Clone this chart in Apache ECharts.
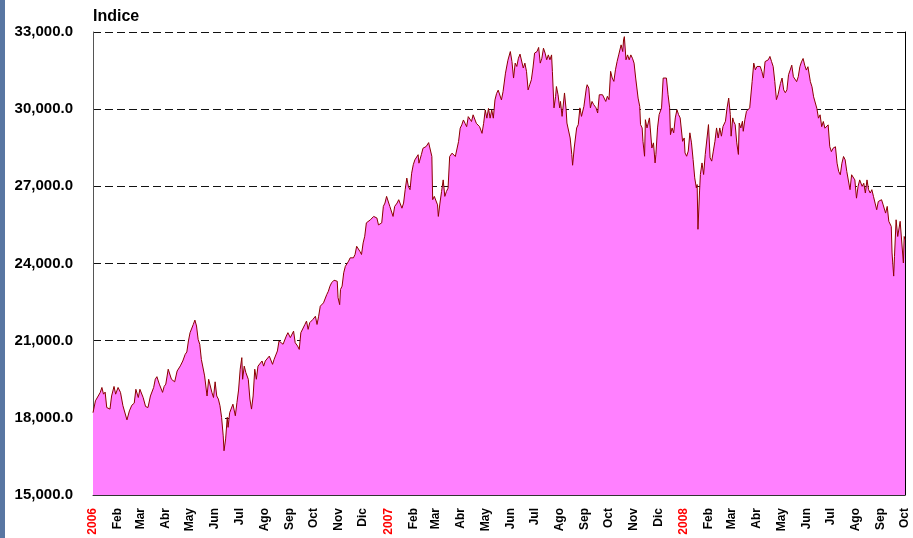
<!DOCTYPE html>
<html>
<head>
<meta charset="utf-8">
<script src="https://cdn.jsdelivr.net/npm/echarts@6/dist/echarts.min.js"></script>
<style>
  html, body { margin: 0; padding: 0; background: #fff; }
  #chart { width: 913px; height: 538px; }
</style>
</head>
<body>
<div id="chart"></div>
<script>
// [days since 2006-01-01, index close]
var s2006 = [[0,18200],[3,18660],[5,18730],[9,18990],[11,19180],[13,18920],[15,19000],[17,18400],[19,18470],[21,18340],[23,18850],[26,19220],[28,18920],[31,19180],[34,18990],[37,18470],[42,17920],[45,18270],[48,18490],[51,18570],[53,19110],[56,18790],[58,19110],[60,19140],[62,18790],[65,18440],[68,18400],[71,18850],[75,19180],[77,19500],[79,19600],[82,19310],[84,19310],[86,18990],[88,19220],[90,19310],[93,19890],[95,19920],[97,19500],[99,19530],[101,19400],[104,19820],[108,20020],[111,20210],[114,20470],[116,20560],[118,20990],[120,21310],[122,21290],[124,21630],[126,21800],[128,21570],[130,21050],[132,20860],[134,20270],[136,20210],[138,19630],[141,18850],[143,19500],[145,19570],[147,18990],[149,18790],[151,19400],[153,18850],[155,18730],[157,18470],[159,18020],[161,17300],[162,16720],[164,17180],[166,18020],[167,17630],[169,18200],[171,18140],[173,18530],[176,18080],[178,18600],[180,19080],[182,19890],[184,20340],[185,19500],[187,20010],[189,19760],[192,19500],[194,18730],[196,18340],[198,18850],[200,19890],[202,19500],[204,20010],[206,19950],[209,20210],[211,20010],[213,20210],[215,20280],[218,20400],[220,20340],[222,20080],[224,20280],[226,20340],[228,20600],[230,20990],[232,21050],[235,20860],[237,20790],[239,21180],[241,21310],[244,21120],[246,21050],[248,21370],[250,20920],[253,20790],[255,20660],[257,21310],[259,21370],[262,21630],[264,21760],[266,21440],[268,21700],[270,21760],[272,21830],[275,21950],[277,21630],[279,21950],[281,22340],[283,22400],[285,22470],[287,22400],[289,22790],[291,22920],[293,23120],[295,23250],[298,23350],[300,23380],[302,23310],[303,22670],[305,22400],[306,22990],[308,23120],[310,23640],[312,23890],[314,23960],[316,24090],[318,24220],[320,24280],[322,24220],[324,24350],[326,24670],[328,24730],[330,24470],[332,24350],[334,24800],[336,25060],[338,25580],[340,25640],[343,25700],[345,25770],[347,25830],[349,25860],[351,25770],[353,25500],[355,25440],[357,25580],[359,26220],[361,26350],[363,26610]];
var s2007 = [[365,26630],[367,26220],[369,26280],[371,25830],[373,26220],[376,26350],[378,26480],[380,26540],[382,26150],[384,26350],[386,26870],[388,27320],[390,26990],[392,26870],[394,27510],[396,27840],[398,28030],[400,28100],[402,28230],[403,27900],[405,27970],[406,28230],[408,28480],[410,28520],[412,28550],[413,28610],[415,28700],[417,28650],[419,28160],[420,26480],[422,26610],[424,26630],[426,26280],[427,25830],[429,26350],[431,26800],[433,27250],[435,26610],[437,26800],[439,26930],[441,28160],[444,28290],[446,28230],[448,28160],[450,28160],[452,28740],[454,29260],[456,29390],[458,29580],[460,29450],[462,29320],[464,29710],[466,29740],[468,29520],[470,29780],[472,29840],[474,29450],[476,29450],[478,29320],[481,29060],[483,29450],[485,29970],[487,29650],[489,30030],[491,29650],[493,29970],[495,29650],[497,30360],[499,30610],[501,30740],[505,30360],[507,30680],[510,31400],[513,31900],[516,32240],[518,31850],[520,31210],[522,31790],[524,31660],[526,31980],[528,32140],[530,32180],[532,31600],[534,31790],[536,31470],[538,30750],[540,30950],[542,31140],[544,31600],[546,32180],[549,32240],[551,32400],[553,31790],[555,31980],[557,32370],[559,32180],[561,31920],[563,32110],[565,31920],[567,32110],[568,31470],[570,30050],[572,30500],[573,30880],[575,30560],[577,30050],[578,30300],[580,29720],[583,30630],[585,29980],[586,29460],[588,29530],[590,28880],[592,28240],[593,27820],[595,28490],[596,28560],[598,29270],[600,29400],[602,30050],[604,29720],[605,29660],[607,30110],[610,30820],[611,30950],[613,30820],[615,30050],[617,30300],[619,30180],[621,30240],[622,30050],[624,29850],[626,30560],[628,30500],[630,30560],[632,30500],[634,30300],[636,30500],[638,30370],[640,31470],[642,31210],[644,31080],[646,31530],[648,31850],[650,32110],[652,32050],[653,32500],[655,32240],[656,32690],[657,32820],[659,31920],[661,32110],[663,31920],[665,32110],[667,31980],[669,31790],[671,31210],[674,30430],[676,30110],[677,29400],[679,29270],[680,28750],[682,28170],[683,29590],[685,29270],[688,29660],[689,29270],[691,28490],[693,28690],[695,27910],[696,28240],[698,29270],[700,29790],[701,29850],[703,30050],[705,31210],[707,31270],[709,31210],[711,30560],[713,30050],[714,29010],[716,29270],[718,29080],[720,29660],[722,29980],[724,29790],[726,29660],[728,29720],[729,28750]];
var s2008 = [[731,28880],[732,28300],[734,28170],[736,28370],[738,29080],[740,28690],[742,28040],[744,27330],[746,26940],[747,27070],[748,25330],[750,26820],[751,27460],[753,27910],[755,27460],[757,28240],[759,28300],[761,29400],[763,28110],[765,27980],[767,28370],[769,28750],[771,29270],[773,28880],[775,29270],[777,28950],[779,29330],[782,29530],[784,30050],[786,30430],[788,29790],[789,28950],[791,29660],[792,29530],[794,29400],[796,28690],[798,28240],[799,29460],[801,29270],[803,29530],[804,29140],[806,29590],[808,29920],[810,29980],[812,30050],[815,31080],[817,31790],[819,31530],[821,31660],[823,31720],[825,31660],[827,31470],[829,31210],[831,31850],[833,31790],[835,31920],[837,32050],[839,31850],[841,31660],[843,31080],[845,30370],[847,30560],[850,31000],[852,31210],[854,30750],[856,30640],[858,30750],[860,31340],[862,31520],[864,31710],[866,31260],[868,31200],[870,31070],[872,31260],[874,31650],[876,31840],[878,31970],[880,31710],[882,31520],[884,31650],[887,31070],[889,30870],[891,30480],[893,30420],[895,30030],[897,29650],[899,29780],[901,29320],[903,29520],[905,29260],[907,29320],[909,29390],[911,28540],[913,28350],[915,28480],[918,28540],[920,27900],[922,27580],[924,27450],[926,27900],[928,28160],[930,28030],[932,27580],[934,27640],[936,26870],[938,27450],[940,27510],[942,27250],[944,26540],[946,27000],[948,27250],[951,27000],[953,27120],[955,26740],[957,27250],[959,26870],[961,26740],[963,26870],[965,26610],[967,26350],[969,26090],[971,26410],[973,26410],[975,26480],[977,26280],[980,25960],[982,26220],[984,25640],[986,25570],[987,25440],[988,24410],[990,23510],[991,24280],[993,25700],[995,25050],[996,24990],[998,25640],[1000,25570],[1002,24020],[1003,25050],[1004,24930]];

var monthNames = ['Ene','Feb','Mar','Abr','May','Jun','Jul','Ago','Sep','Oct','Nov','Dic'];
var yTicks = [15000, 18000, 21000, 24000, 27000, 30000, 33000];

var t0 = Date.UTC(2006, 0, 1);
function dateToDay(y, m){
	return Math.round((Date.UTC(y, m, 1) - t0) / 86400000);
}
function dayToDate(d){
	return new Date(t0 + d * 86400000);
}

var seriesData = s2006.concat(s2007, s2008);

// month starts Jan 2006 .. Oct 2008, as day offsets
var monthStarts = [];
for (var y = 2006; y <= 2008; y++) {
	for (var m = 0; m < 12; m++) {
		if (y == 2008 && m > 9) break;
		monthStarts.push(dateToDay(y, m));
	}
}

var myChart = echarts.init(document.getElementById('chart'));
var option = {
	animation: false,
	backgroundColor: '#fff',
	title: {
		text: 'Indice',
		left: 93,
		top: 9,
		padding: 0,
		textStyle: { fontFamily: 'Liberation Sans, Arial', fontSize: 16, fontWeight: 'bold', color: '#000' }
	},
	grid: { left: 93, right: 8, top: 32, bottom: 43 },
	xAxis: {
		type: 'value',
		min: monthStarts[0],
		max: monthStarts[monthStarts.length - 1],
		axisLine: { show: true, onZero: false, lineStyle: { color: '#333', width: 1 } },
		axisTick: { show: false },
		splitLine: { show: false },
		axisLabel: {
			customValues: monthStarts,
			rotate: 90,
			margin: 13,
			fontFamily: 'Liberation Sans, Arial',
			fontSize: 12,
			fontWeight: 'bold',
			color: '#000',
			formatter: function (val) {
				var d = dayToDate(val);
				if (d.getUTCMonth() == 0) return '{yr|' + d.getUTCFullYear() + '}';
				return monthNames[d.getUTCMonth()];
			},
			rich: {
				yr: { color: '#ff0000', fontFamily: 'Liberation Sans, Arial', fontSize: 12, fontWeight: 'bold' }
			}
		}
	},
	yAxis: [
		{
			type: 'value',
			min: yTicks[0],
			max: yTicks[yTicks.length - 1],
			interval: 3000,
			axisLine: { show: true, lineStyle: { color: '#555', width: 1 } },
			axisTick: { show: false },
			splitLine: { show: true, lineStyle: { color: '#111', type: [8, 4], width: 1 } },
			axisLabel: {
				margin: 20,
				fontFamily: 'Liberation Sans, Arial',
				fontSize: 15,
				fontWeight: 'bold',
				color: '#000',
				formatter: function (v) {
					return v.toLocaleString('en-US', { minimumFractionDigits: 1, maximumFractionDigits: 1 });
				}
			}
		},
		{
			type: 'value',
			position: 'right',
			min: yTicks[0],
			max: yTicks[yTicks.length - 1],
			axisLine: { show: true, lineStyle: { color: '#000', width: 1 } },
			axisTick: { show: false },
			axisLabel: { show: false },
			splitLine: { show: false }
		}
	],
	graphic: [
		{ type: 'rect', left: 0, top: 0, shape: { width: 5, height: 538 }, style: { fill: '#5876a2' } }
	],
	series: [
		{
			name: 'Indice',
			type: 'line',
			data: seriesData,
			showSymbol: false,
			symbol: 'none',
			lineStyle: { color: '#8b0000', width: 1 },
			areaStyle: { color: '#ff80ff', opacity: 1, origin: 'start' },
			z: 3
		}
	]
};
myChart.setOption(option);
</script>
</body>
</html>
